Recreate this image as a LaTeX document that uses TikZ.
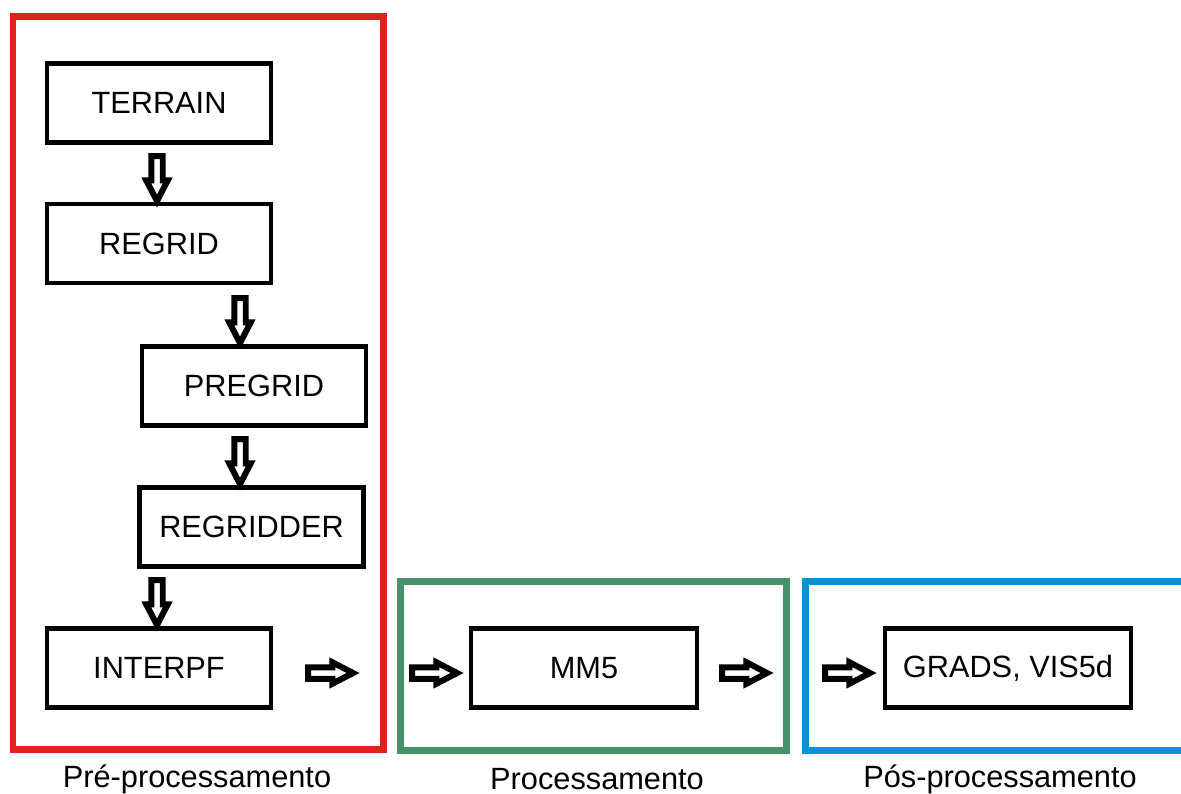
\documentclass[tikz,border=0pt]{standalone}
\usepackage{fontspec}
\setmainfont{Liberation Sans}
\usepackage{tikz}
\usetikzlibrary{shapes.arrows}
\definecolor{prered}{RGB}{220,36,31}
\definecolor{procgreen}{RGB}{70,145,105}
\definecolor{posblue}{RGB}{0,146,220}
\tikzset{
  module/.style={
    rectangle,
    minimum width=4.48cm,
    minimum height=1.58cm,
    align=center,
    draw=black,
    line width=0.09cm,
    font=\fontsize{17.5}{20}\selectfont
    },
  stage/.style={
    rectangle,
    line width=0.14cm
    },
  stagename/.style={
    font=\fontsize{17.5}{21}\selectfont
    },
  blockarrow/.style={
    single arrow,
    draw=black,
    fill=white,
    line width=0.12cm,
    inner xsep=0pt,
    inner ysep=0.055cm,
    minimum height=0.9cm,
    single arrow head extend=0.1cm,
    single arrow tip angle=55
    },
  down/.style={shape border rotate=270, inner xsep=0.055cm, inner ysep=0pt},
}

\begin{document}
\begin{tikzpicture}[x=0.02cm,y=-0.02cm]
\useasboundingbox (0,0) rectangle (1181,794);
\draw[stage,draw=prered] (13,17) rectangle (383,749);
\draw[stage,draw=procgreen] (400,581) rectangle (786,750);
\draw[stage,draw=posblue] (805,581) rectangle (1200,750);
\node (terrain) [module] at (159,103) {TERRAIN};
\node (regrid) [module] at (159,243.5) {REGRID};
\node (pregrid) [module] at (254,386) {PREGRID};
\node (regridder) [module] at (251.5,527) {REGRIDDER};
\node (interpf) [module] at (159,668) {INTERPF};
\node (mm5) [module,minimum width=4.52cm] at (584,668) {MM5};
\node (grads) [module,minimum width=4.92cm] at (1008,668) {GRADS, VIS5d};
\node (a1) [blockarrow,down] at (157,173) {};
\node (a2) [blockarrow,down] at (240,315) {};
\node (a3) [blockarrow,down] at (240,456) {};
\node (a4) [blockarrow,down] at (157,597) {};
\node (a5) [blockarrow] at (325,673) {};
\node (a6) [blockarrow] at (429,673) {};
\node (a7) [blockarrow] at (739,673) {};
\node (a8) [blockarrow] at (842,673) {};
\node (pre) [stagename] at (197,779) {Pré-processamento};
\node (proc) [stagename] at (597,779) {Processamento};
\node (pos) [stagename] at (1000,779) {Pós-processamento};
\end{tikzpicture}
\end{document}
